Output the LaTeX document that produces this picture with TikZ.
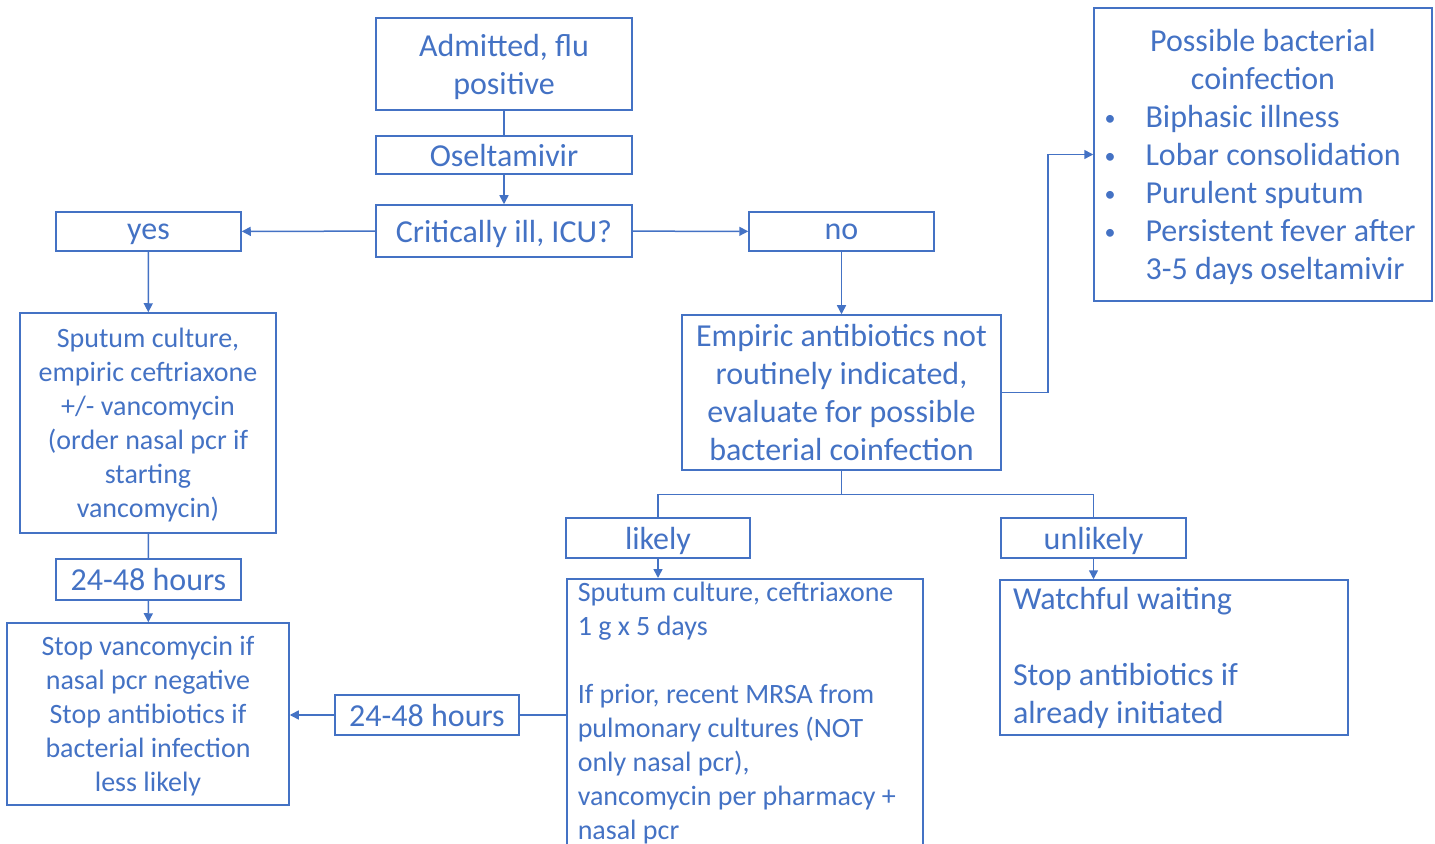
\documentclass[tikz,border=0pt]{standalone}
\usepackage{fontspec}
\setmainfont{Carlito}
\usetikzlibrary{arrows.meta}
\definecolor{flublue}{HTML}{4472C4}
\newcommand\blt{\hspace*{-3pt}\raisebox{0.8pt}{\fontsize{11}{11}\selectfont\textbullet}}

\begin{document}
\begin{tikzpicture}[x=0.5pt,y=-0.5pt,
  bx/.style={draw=flublue,line width=0.75pt,text=flublue,inner sep=0pt,align=center,
    text depth=0pt,font=\fontsize{16}{19}\selectfont},
  sm/.style={font=\fontsize{14}{17}\selectfont},
  ln/.style={draw=flublue,line width=0.75pt},
  arr/.style={ln,-{Triangle[length=4.5pt,width=4.5pt]}}]

\clip (0,0) rectangle (1435,844);

% admission and triage
\node[bx,minimum width=128pt,minimum height=46pt] (adm) at (504,64) {Admitted, flu\\positive};
\node[bx,minimum width=128pt,minimum height=19pt] (osel) at (504,155) {Oseltamivir};
\node[bx,minimum width=128pt,minimum height=26pt] (crit) at (504,231) {Critically ill, ICU?};
\node[bx,minimum width=92.5pt,minimum height=19.5pt] (yes) at (148.5,231.5) {yes};
\node[bx,minimum width=92.5pt,minimum height=19.5pt] (no) at (841.5,231.5) {no};

% ICU branch
\node[bx,sm,minimum width=128pt,minimum height=110pt] (sputL) at (148,423)
  {Sputum culture,\\empiric ceftriaxone\\+/- vancomycin\\(order nasal pcr if\\starting\\vancomycin)};
\node[bx,minimum width=92.5pt,minimum height=20.5pt] (hrsL) at (148.5,579.5) {24-48 hours};
\node[bx,sm,minimum width=141pt,minimum height=91pt] (stop) at (148,714)
  {Stop vancomycin if\\nasal pcr negative\\Stop antibiotics if\\bacterial infection\\less likely};
\node[bx,minimum width=92pt,minimum height=20pt] (hrsM) at (427,715) {24-48 hours};

% ward branch
\node[bx,minimum width=159.5pt,minimum height=77.5pt] (emp) at (841.5,392.5)
  {Empiric antibiotics not\\routinely indicated,\\evaluate for possible\\bacterial coinfection};
\node[bx,minimum width=169pt,minimum height=146.5pt,text depth=] (poss) at (1263,154.5)
  {\rule{0pt}{16.5pt}Possible bacterial\\coinfection\\
   \begin{tabular}[t]{@{}p{17.5pt}@{}l@{}}
   \blt & Biphasic illness\\
   \blt & Lobar consolidation\\
   \blt & Purulent sputum\\
   \blt & Persistent fever after\\
        & 3-5 days oseltamivir
   \end{tabular}};
\node[bx,minimum width=92pt,minimum height=20pt] (likely) at (658,538) {likely};
\node[bx,minimum width=92.5pt,minimum height=20pt] (unlikely) at (1093.5,538) {unlikely};
\node[bx,sm,anchor=north west,text width=167pt,inner xsep=5.5pt,inner ysep=1.5pt,align=flush left,
  text depth=] (sputR) at (566,578)
  {Sputum culture, ceftriaxone\\1 g x 5 days\\[17pt]If prior, recent MRSA from\\pulmonary cultures (NOT\\only nasal pcr),\\vancomycin per pharmacy +\\nasal pcr};
\node[bx,minimum width=174pt,minimum height=77.5pt,text width=161pt,inner xsep=6.5pt,align=flush left,
  text depth=] (watch) at (1174,657.5)
  {Watchful waiting\\[19pt]Stop antibiotics if\\already initiated};

% connectors
\draw[ln] (adm) -- (osel);
\draw[arr] (osel) -- (crit);
\draw[arr] (crit) -- (yes);
\draw[arr] (crit) -- (no);
\draw[arr] (yes) -- (sputL);
\draw[ln] (sputL) -- (hrsL);
\draw[arr] (hrsL) -- (stop);
\draw[arr] (no) -- (emp);
\draw[arr] (emp.east) -- ++(46,0) |- (poss.west);
\draw[ln] (emp.south) -- ++(0,24) coordinate (fork) -| (likely.north);
\draw[ln] (fork) -| (unlikely.north);
\draw[arr] (likely.south) -- (likely.south |- sputR.north);
\draw[arr] (unlikely.south) -- (unlikely.south |- watch.north);
\draw[ln] (hrsM.east) -- (hrsM.east -| sputR.west);
\draw[arr] (hrsM.west) -- (hrsM.west -| stop.east);
\end{tikzpicture}
\end{document}
